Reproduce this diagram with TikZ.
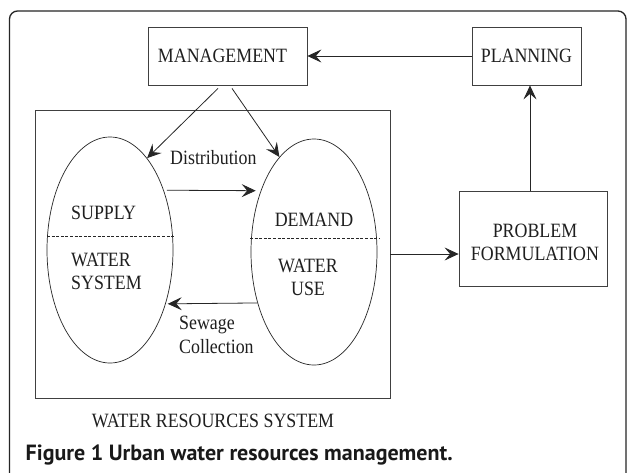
\documentclass[tikz,border=0pt]{standalone}
\usepackage{fontspec}
\setmainfont{Liberation Serif}[FakeStretch=0.88]
\newfontfamily\capfont{PT Sans}
\usetikzlibrary{arrows.meta,shapes.geometric,calc}
\begin{document}
\begin{tikzpicture}[x=1pt,y=-1pt,
  txt/.style={font=\fontsize{20.3}{23.5}\selectfont, text=black!88, inner sep=0pt},
  box/.style={draw=black!75, line width=0.8pt, inner sep=0pt, txt, align=center},
  oval/.style={ellipse, draw=black!85, line width=0.7pt, inner sep=0pt, minimum width=126pt, minimum height=226pt},
  arr/.style={draw=black!85, line width=0.8pt, -{Stealth[length=14pt,width=13pt,inset=5.5pt]}},
  halfline/.style={draw=black!85, line width=0.7pt, dash pattern=on 3pt off 1.6pt}]
\useasboundingbox (0,0) rectangle (627,472);
\fill[white] (0,0) rectangle (627,472);
\begin{scope}
\clip (0,0) rectangle (627,472);
\draw[black!85, line width=1.3pt, rounded corners=8pt] (9.5,11) rectangle (626,520);
\end{scope}
% boxes
\node[box, minimum width=159pt, minimum height=58pt] (mgmt) at (227.5,56) {MANAGEMENT\hspace*{10pt}};
\node[box, minimum width=109pt, minimum height=58pt] (plan) at (526.5,56) {PLANNING};
\node[draw=black!75, line width=0.8pt, minimum width=148pt, minimum height=95pt, inner sep=0pt] (prob) at (533,238.5) {};
\node[txt, align=center] (probt) at (535,242.5) {PROBLEM\\FORMULATION};
\node[draw=black!75, line width=0.8pt, minimum width=355pt, minimum height=288pt, inner sep=0pt] (wrs) at (212.5,254) {};
% ellipses
\node[oval] (sup) at (110,250) {};
\node[oval] (dem) at (314,252) {};
\draw[halfline] ($(sup.center)+(-63,-13.5)$) -- ($(sup.center)+(65,-13.5)$);
\draw[halfline] ($(dem.center)+(-64,-14)$) -- ($(dem.center)+(65,-14)$);
% ellipse texts
\node[txt, anchor=west] (tsup) at (71,213) {SUPPLY};
\node[txt, anchor=west, align=left] (tws) at (71,271.5) {WATER\\SYSTEM};
\node[txt] (tdem) at (314,220) {DEMAND};
\node[txt, align=center] (twu) at (308,277.5) {WATER\\USE};
% labels
\node[txt, anchor=west] (tdist) at (170,158) {Distribution};
\node[txt, anchor=west, align=left] (tsew) at (179,335) {Sewage\\Collection};
\node[txt] (twrs) at (213,421) {WATER RESOURCES SYSTEM};
\node[font=\capfont\bfseries\fontsize{22}{26}\selectfont, text=black!90, anchor=west, inner sep=0pt] (cap) at (25.5,455) {Figure 1 Urban water resources management.};
% connectors
\draw[arr] (plan.west) -- (mgmt.east);
\draw[arr] ([xshift=-9.5pt,yshift=-3pt]mgmt.south) -- (sup.68);
\draw[arr] ([xshift=4.5pt,yshift=-3pt]mgmt.south) -- (dem.110);
\draw[arr] ([xshift=3pt]sup.48) -- ([xshift=-5pt]dem.131.5);
\draw[arr] (dem.222) -- ([xshift=2pt]sup.-44);
\draw[arr] (wrs.east) -- (wrs.east -| prob.west);
\draw[arr] ([xshift=-3pt]prob.north) -- ([xshift=-3pt]prob.north |- plan.south);
\end{tikzpicture}
\end{document}
